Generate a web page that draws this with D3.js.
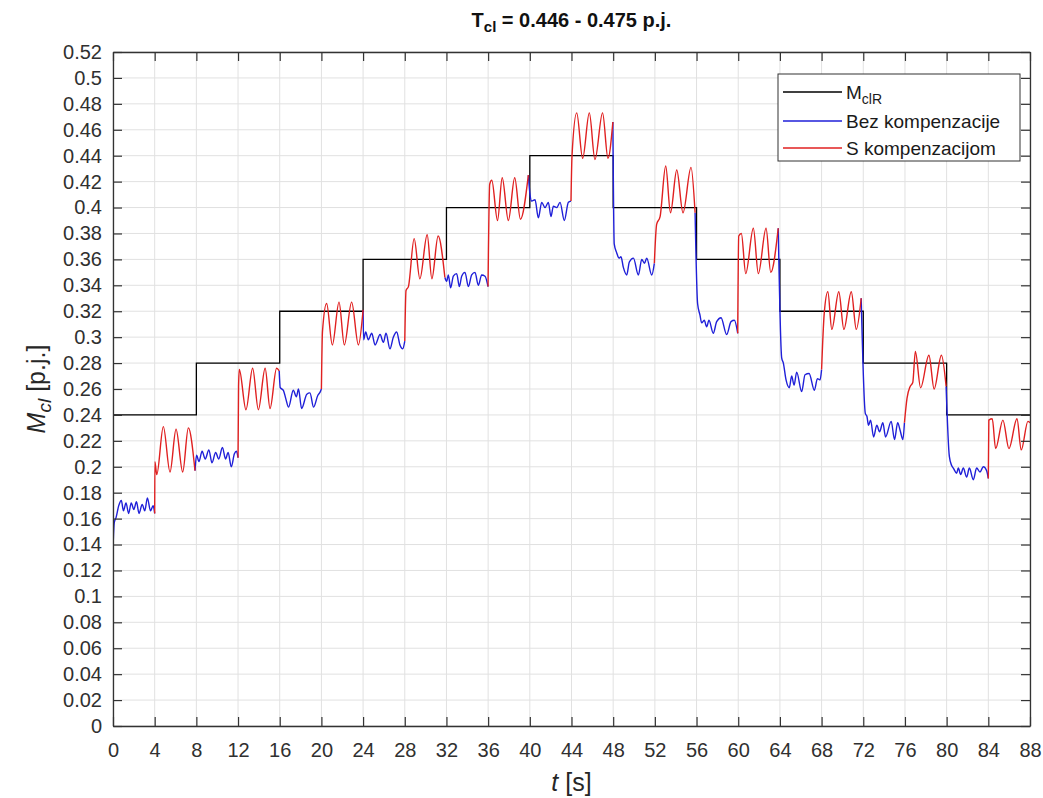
<!DOCTYPE html>
<html>
<head>
<meta charset="utf-8">
<script src="https://cdn.jsdelivr.net/npm/d3@7"></script>
<style>
  body { margin: 0; background: #fff; }
  text { font-family: "Liberation Sans", Arial, sans-serif; }
</style>
</head>
<body>
<svg id="chart" width="1043" height="798"></svg>
<script>
// tick values
const xTicks = [0, 4, 8, 12, 16, 20, 24, 28, 32, 36, 40, 44, 48, 52, 56, 60, 64, 68, 72, 76, 80, 84, 88]
const yTicks = [0, 0.02, 0.04, 0.06, 0.08, 0.1, 0.12, 0.14, 0.16, 0.18, 0.2, 0.22, 0.24, 0.26,
  0.28, 0.3, 0.32, 0.34, 0.36, 0.38, 0.4, 0.42, 0.44, 0.46, 0.48, 0.5, 0.52]

// reference torque M_clR (step changes every 8 s)
const refT = [0, 8, 16, 24, 32, 40, 48, 56, 64, 72, 80, 88]
const refV = [0.24, 0.28, 0.32, 0.36, 0.40, 0.44, 0.40, 0.36, 0.32, 0.28, 0.24, 0.24]

// "Bez kompenzacije" - first half of every step, [t, value]
const blueSegs = [
  [[0, 0.137], [0.12, 0.157], [0.3, 0.161], [0.55, 0.170], [0.8, 0.174], [1.0, 0.166], [1.25, 0.172], [1.5, 0.164],
   [1.75, 0.172], [2.0, 0.167], [2.25, 0.173], [2.5, 0.164], [2.8, 0.171], [3.05, 0.166], [3.3, 0.176], [3.6, 0.166],
   [3.85, 0.170], [4.0, 0.164]],
  [[8.02, 0.209], [8.25, 0.204], [8.55, 0.212], [8.85, 0.206], [9.2, 0.213], [9.5, 0.203], [9.85, 0.211], [10.15, 0.206],
   [10.5, 0.215], [10.8, 0.206], [11.05, 0.211], [11.35, 0.200], [11.65, 0.210], [11.85, 0.212], [12.0, 0.207]],
  [[16.05, 0.261], [16.35, 0.259], [16.6, 0.252], [16.85, 0.246], [17.3, 0.259], [17.6, 0.254], [17.8, 0.260],
   [18.1, 0.245], [18.6, 0.256], [18.9, 0.257], [19.25, 0.246], [19.65, 0.255], [19.9, 0.258], [20.0, 0.260]],
  [[24.05, 0.298], [24.25, 0.304], [24.5, 0.298], [24.83, 0.303], [25.15, 0.294], [25.63, 0.302], [25.95, 0.296],
   [26.2, 0.303], [26.58, 0.291], [26.9, 0.300], [27.22, 0.304], [27.54, 0.294], [27.8, 0.291], [28.0, 0.297]],
  [[32.02, 0.343], [32.18, 0.348], [32.4, 0.338], [32.66, 0.347], [32.98, 0.349], [33.24, 0.339], [33.46, 0.347],
   [33.78, 0.350], [34.1, 0.339], [34.42, 0.348], [34.74, 0.350], [35.06, 0.340], [35.38, 0.348], [35.7, 0.347],
   [35.99, 0.339]],
  [[40.02, 0.410], [40.18, 0.405], [40.5, 0.406], [40.82, 0.392], [41.14, 0.404], [41.46, 0.400], [41.78, 0.404],
   [42.03, 0.393], [42.26, 0.401], [42.58, 0.400], [42.9, 0.404], [43.31, 0.390], [43.7, 0.404], [43.95, 0.405]],
  [[48.1, 0.372], [48.34, 0.365], [48.56, 0.361], [48.75, 0.362], [48.97, 0.354], [49.3, 0.348], [49.55, 0.358],
   [49.94, 0.361], [50.42, 0.348], [50.74, 0.360], [51.0, 0.357], [51.22, 0.361], [51.7, 0.348], [51.95, 0.357]],
  [[56.1, 0.326], [56.33, 0.317], [56.49, 0.311], [56.74, 0.313], [56.97, 0.308], [57.19, 0.313], [57.61, 0.303],
   [57.93, 0.312], [58.35, 0.315], [58.89, 0.302], [59.31, 0.312], [59.63, 0.313], [59.95, 0.303]],
  [[64.17, 0.284], [64.33, 0.280], [64.59, 0.267], [64.9, 0.261], [65.13, 0.270], [65.36, 0.263], [65.61, 0.273],
   [66.09, 0.258], [66.41, 0.271], [66.8, 0.272], [67.31, 0.259], [67.6, 0.268], [67.85, 0.267], [68.0, 0.275]],
  [[72.2, 0.241], [72.35, 0.239], [72.5, 0.232], [72.7, 0.236], [72.99, 0.223], [73.3, 0.232], [73.56, 0.227],
   [73.88, 0.234], [74.14, 0.223], [74.68, 0.235], [75.0, 0.221], [75.3, 0.234], [75.54, 0.228], [75.8, 0.221],
   [75.95, 0.234]],
  [[80.26, 0.208], [80.48, 0.201], [80.64, 0.199], [80.96, 0.195], [81.12, 0.199], [81.35, 0.194], [81.6, 0.199],
   [81.92, 0.192], [82.18, 0.199], [82.56, 0.190], [82.88, 0.199], [83.2, 0.196], [83.52, 0.200], [83.84, 0.197],
   [84.0, 0.191]]
]

// "S kompenzacijom" - second half of every step, [t, value]
const redSegs = [
  [[4.02, 0.204], [4.2, 0.194], [4.83, 0.231], [5.47, 0.196], [6.05, 0.229], [6.69, 0.196], [7.23, 0.230], [7.87, 0.197]],
  [[12.05, 0.262], [12.12, 0.275], [12.76, 0.244], [13.4, 0.276], [13.95, 0.244], [14.6, 0.276], [15.07, 0.245],
   [15.7, 0.276], [15.95, 0.274]],
  [[20.1, 0.304], [20.5, 0.326], [21.05, 0.294], [21.69, 0.327], [22.2, 0.294], [22.9, 0.327], [23.55, 0.294],
   [24.0, 0.321]],
  [[28.12, 0.336], [28.35, 0.339], [28.9, 0.376], [29.45, 0.345], [30.15, 0.379], [30.6, 0.345], [31.2, 0.378],
   [31.85, 0.346]],
  [[36.15, 0.418], [36.35, 0.421], [36.9, 0.390], [37.35, 0.423], [37.94, 0.390], [38.55, 0.423], [39.1, 0.391],
   [39.86, 0.425]],
  [[44.05, 0.440], [44.5, 0.473], [45.07, 0.438], [45.71, 0.473], [46.25, 0.437], [46.98, 0.473], [47.5, 0.438],
   [47.97, 0.466]],
  [[52.17, 0.387], [52.5, 0.393], [53.04, 0.432], [53.5, 0.396], [54.1, 0.429], [54.7, 0.396], [55.47, 0.431],
   [55.86, 0.396]],
  [[60.05, 0.378], [60.3, 0.380], [60.72, 0.349], [61.45, 0.384], [61.93, 0.349], [62.67, 0.384], [63.12, 0.350],
   [63.84, 0.384]],
  [[68.25, 0.318], [68.6, 0.335], [68.98, 0.306], [69.65, 0.335], [70.14, 0.306], [70.85, 0.335], [71.33, 0.306],
   [71.8, 0.330]],
  [[76.2, 0.253], [76.5, 0.262], [76.75, 0.265], [77.0, 0.289], [77.5, 0.261], [78.3, 0.286], [78.8, 0.260],
   [79.5, 0.286], [79.95, 0.262]],
  [[84.05, 0.236], [84.38, 0.237], [84.7, 0.214], [85.4, 0.236], [85.98, 0.214], [86.75, 0.237], [87.16, 0.213],
   [87.8, 0.235], [88.0, 0.234]]
]

const svg = d3.select('#chart')
const W = 1043, H = 798
const plotL = 113, plotR = 1030, plotT = 52, plotB = 726
const axisColor = '#333333'
const blue = '#1f1fd8'
const red = '#e02020'

const x = d3.scaleLinear().domain([0, 88]).range([plotL, plotR])
const y = d3.scaleLinear().domain([0, 0.52]).range([plotB, plotT])

svg.append('rect').attr('width', W).attr('height', H).attr('fill', '#fff')

svg.append('defs').append('clipPath').attr('id', 'plot-clip')
  .append('rect').attr('x', plotL).attr('y', plotT).attr('width', plotR - plotL).attr('height', plotB - plotT)

// grid
const grid = svg.append('g').attr('stroke', '#e1e1e1').attr('stroke-width', 1)
grid.selectAll('line.gx').data(xTicks).enter().append('line')
  .attr('x1', (d) => x(d)).attr('x2', (d) => x(d)).attr('y1', plotT).attr('y2', plotB)
grid.selectAll('line.gy').data(yTicks).enter().append('line')
  .attr('y1', (d) => y(d)).attr('y2', (d) => y(d)).attr('x1', plotL).attr('x2', plotR)

const plot = svg.append('g').attr('clip-path', 'url(#plot-clip)')

// reference step line
const stepLine = d3.line().x((d) => x(d[0])).y((d) => y(d[1])).curve(d3.curveStepAfter)
plot.append('path')
  .datum(refT.map((t, i) => [t, refV[i]]))
  .attr('d', stepLine)
  .attr('fill', 'none').attr('stroke', '#000').attr('stroke-width', 1.3)

// measured torque, each segment continues from the end of the previous one
const line = d3.line().x((d) => x(d[0])).y((d) => y(d[1])).curve(d3.curveMonotoneX)
const blueData = blueSegs.map((s, i) => (i > 0 ? [redSegs[i - 1][redSegs[i - 1].length - 1]].concat(s) : s))
const redData = redSegs.map((s, i) => [blueSegs[i][blueSegs[i].length - 1]].concat(s))

plot.append('g').selectAll('path').data(blueData).enter().append('path')
  .attr('d', line).attr('fill', 'none').attr('stroke', blue).attr('stroke-width', 1.4)
plot.append('g').selectAll('path').data(redData).enter().append('path')
  .attr('d', line).attr('fill', 'none').attr('stroke', red).attr('stroke-width', 1.4)

// axes, ticks pointing inward on all four sides
const fmt = d3.format('.2~f')
const styleAxis = (g) => {
  g.attr('color', axisColor).attr('font-size', 20).attr('font-family', null)
  g.select('.domain').attr('stroke-width', 1.3)
  g.selectAll('.tick line').attr('stroke-width', 1.2)
  g.selectAll('.tick text').attr('fill', '#303030')
}
svg.append('g').attr('transform', `translate(0,${plotB})`)
  .call(d3.axisBottom(x).tickValues(xTicks).tickSize(-9).tickSizeOuter(0).tickPadding(17))
  .call(styleAxis)
svg.append('g').attr('transform', `translate(${plotL},0)`)
  .call(d3.axisLeft(y).tickValues(yTicks).tickFormat(fmt).tickSize(-9).tickSizeOuter(0).tickPadding(11))
  .call(styleAxis)
svg.append('g').attr('transform', `translate(0,${plotT})`)
  .call(d3.axisTop(x).tickValues(xTicks).tickFormat('').tickSize(-9).tickSizeOuter(0))
  .call(styleAxis)
svg.append('g').attr('transform', `translate(${plotR},0)`)
  .call(d3.axisRight(y).tickValues(yTicks).tickFormat('').tickSize(-9).tickSizeOuter(0))
  .call(styleAxis)

// title
const title = svg.append('text').attr('x', (plotL + plotR) / 2).attr('y', 27)
  .attr('text-anchor', 'middle').attr('font-size', 20).attr('font-weight', 'bold').attr('fill', '#111')
title.append('tspan').text('T')
title.append('tspan').attr('dy', 5).attr('font-size', 15).text('cl')
title.append('tspan').attr('dy', -5).text(' = 0.446 - 0.475 p.j.')

// axis labels
const xl = svg.append('text').attr('x', (plotL + plotR) / 2).attr('y', 791)
  .attr('text-anchor', 'middle').attr('font-size', 25).attr('fill', '#262626')
xl.append('tspan').attr('font-style', 'italic').text('t')
xl.append('tspan').text(' [s]')

const yl = svg.append('text').attr('transform', `translate(45,${(plotT + plotB) / 2}) rotate(-90)`)
  .attr('text-anchor', 'middle').attr('font-size', 25).attr('fill', '#262626')
yl.append('tspan').attr('font-style', 'italic').text('M')
yl.append('tspan').attr('font-style', 'italic').attr('dy', 6).attr('font-size', 19).text('cl')
yl.append('tspan').attr('dy', -6).text(' [p.j.]')

// legend
const legendItems = [
  { main: 'M', sub: 'clR', color: '#000' },
  { main: 'Bez kompenzacije', sub: null, color: blue },
  { main: 'S kompenzacijom', sub: null, color: red }
]
const lg = svg.append('g')
lg.append('rect').attr('x', 778).attr('y', 74).attr('width', 242).attr('height', 87)
  .attr('fill', '#fff').attr('stroke', axisColor).attr('stroke-width', 1)
const rows = lg.selectAll('g.item').data(legendItems).enter().append('g')
  .attr('transform', (d, i) => `translate(0,${[92, 121, 148][i]})`)
rows.append('line').attr('x1', 783).attr('x2', 842).attr('y1', 0).attr('y2', 0)
  .attr('stroke', (d) => d.color).attr('stroke-width', 1.4)
const lt = rows.append('text').attr('x', 846).attr('y', 7).attr('font-size', 19).attr('fill', '#1a1a1a')
lt.append('tspan').text((d) => d.main)
lt.filter((d) => d.sub).append('tspan').attr('dy', 5).attr('font-size', 14).text((d) => d.sub)
</script>
</body>
</html>
